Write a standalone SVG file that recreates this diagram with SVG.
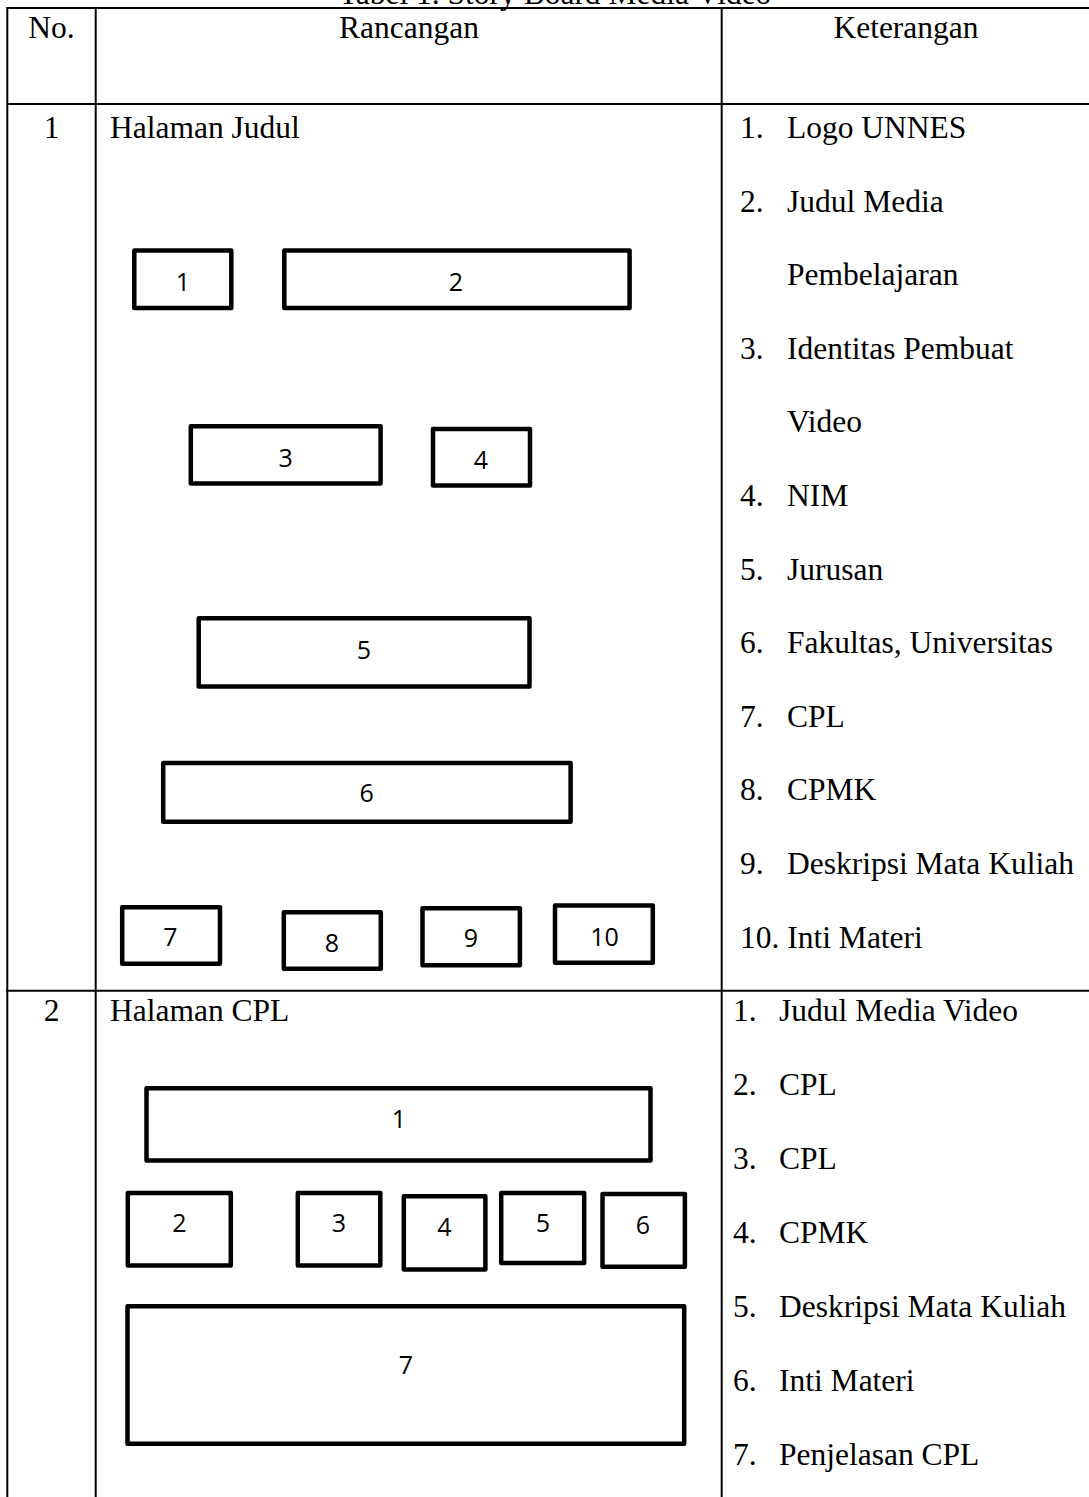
<svg xmlns="http://www.w3.org/2000/svg" width="1089" height="1497" viewBox="0 0 1089 1497">
<style>
.t{font-family:"Liberation Serif","Times New Roman",serif;font-size:31.5px;fill:#000}
.c{text-anchor:middle}
.bx{fill:#fff;stroke:#000;stroke-width:4.5;stroke-linejoin:round}
.lb{font-family:"Open Sans","Liberation Sans",sans-serif;font-size:25px;fill:#000;text-anchor:middle}
.ln{stroke:#000;stroke-width:2;fill:none}
</style>
<rect width="1089" height="1497" fill="#fff"/>
<text class="t c" x="555" y="4">Tabel 1. Story Board Media Video</text>
<g id="table-lines">
<line class="ln" x1="6" y1="8" x2="1089" y2="8"/>
<line class="ln" x1="6" y1="104" x2="1089" y2="104"/>
<line class="ln" x1="6" y1="990.7" x2="1089" y2="990.7"/>
<line class="ln" x1="7.3" y1="7" x2="7.3" y2="1497"/>
<line class="ln" x1="95.7" y1="7" x2="95.7" y2="1497"/>
<line class="ln" x1="721.7" y1="7" x2="721.7" y2="1497"/>
</g>
<g id="header">
<text class="t c" x="51.5" y="38">No.</text>
<text class="t c" x="409" y="38">Rancangan</text>
<text class="t c" x="906" y="38">Keterangan</text>
</g>
<g id="row1-text">
<text class="t c" x="51.5" y="138">1</text>
<text class="t" x="110" y="138">Halaman Judul</text>
<text class="t" x="740" y="138">1.</text><text class="t" x="787" y="138">Logo UNNES</text>
<text class="t" x="740" y="211.6">2.</text><text class="t" x="787" y="211.6">Judul Media</text>
<text class="t" x="787" y="285.2">Pembelajaran</text>
<text class="t" x="740" y="358.8">3.</text><text class="t" x="787" y="358.8">Identitas Pembuat</text>
<text class="t" x="787" y="432.4">Video</text>
<text class="t" x="740" y="506">4.</text><text class="t" x="787" y="506">NIM</text>
<text class="t" x="740" y="579.6">5.</text><text class="t" x="787" y="579.6">Jurusan</text>
<text class="t" x="740" y="653.2">6.</text><text class="t" x="787" y="653.2">Fakultas, Universitas</text>
<text class="t" x="740" y="726.8">7.</text><text class="t" x="787" y="726.8">CPL</text>
<text class="t" x="740" y="800.4">8.</text><text class="t" x="787" y="800.4">CPMK</text>
<text class="t" x="740" y="874">9.</text><text class="t" x="787" y="874">Deskripsi Mata Kuliah</text>
<text class="t" x="740" y="947.6">10. Inti Materi</text>
</g>
<g id="row1-box1"><rect class="bx" x="134.3" y="250.5" width="97" height="57.5"/><text class="lb" x="183" y="291">1</text></g>
<g id="row1-box2"><rect class="bx" x="284.3" y="250.5" width="345.3" height="57.5"/><text class="lb" x="456" y="291">2</text></g>
<g id="row1-box3"><rect class="bx" x="190.8" y="426.2" width="189.8" height="57.2"/><text class="lb" x="285.7" y="467">3</text></g>
<g id="row1-box4"><rect class="bx" x="433" y="429" width="97" height="56.5"/><text class="lb" x="481" y="469">4</text></g>
<g id="row1-box5"><rect class="bx" x="198.7" y="618.2" width="330.8" height="68.2"/><text class="lb" x="364" y="659">5</text></g>
<g id="row1-box6"><rect class="bx" x="163.2" y="763" width="407.4" height="58.8"/><text class="lb" x="366.6" y="802">6</text></g>
<g id="row1-box7"><rect class="bx" x="122.2" y="907.2" width="97.8" height="56.5"/><text class="lb" x="170.5" y="946">7</text></g>
<g id="row1-box8"><rect class="bx" x="283.8" y="912.2" width="97" height="56.5"/><text class="lb" x="332" y="952">8</text></g>
<g id="row1-box9"><rect class="bx" x="422.5" y="908.2" width="97.4" height="57"/><text class="lb" x="471" y="947">9</text></g>
<g id="row1-box10"><rect class="bx" x="555" y="905.5" width="97.8" height="57.2"/><text class="lb" x="604.5" y="946">10</text></g>
<g id="row2-text">
<text class="t c" x="51.5" y="1021">2</text>
<text class="t" x="110" y="1021">Halaman CPL</text>
<text class="t" x="733" y="1021">1.</text><text class="t" x="779" y="1021">Judul Media Video</text>
<text class="t" x="733" y="1095">2.</text><text class="t" x="779" y="1095">CPL</text>
<text class="t" x="733" y="1169">3.</text><text class="t" x="779" y="1169">CPL</text>
<text class="t" x="733" y="1243">4.</text><text class="t" x="779" y="1243">CPMK</text>
<text class="t" x="733" y="1317">5.</text><text class="t" x="779" y="1317">Deskripsi Mata Kuliah</text>
<text class="t" x="733" y="1391">6.</text><text class="t" x="779" y="1391">Inti Materi</text>
<text class="t" x="733" y="1465">7.</text><text class="t" x="779" y="1465">Penjelasan CPL</text>
</g>
<g id="row2-box1"><rect class="bx" x="146.5" y="1088.2" width="504" height="72.2"/><text class="lb" x="399" y="1128">1</text></g>
<g id="row2-box2"><rect class="bx" x="127.8" y="1193" width="103" height="72.5"/><text class="lb" x="179.3" y="1232">2</text></g>
<g id="row2-box3"><rect class="bx" x="297.8" y="1193" width="82.5" height="72.5"/><text class="lb" x="339" y="1232">3</text></g>
<g id="row2-box4"><rect class="bx" x="403.8" y="1196.2" width="81.6" height="73.2"/><text class="lb" x="444.5" y="1236">4</text></g>
<g id="row2-box5"><rect class="bx" x="501.2" y="1193" width="83" height="70"/><text class="lb" x="543" y="1232">5</text></g>
<g id="row2-box6"><rect class="bx" x="602.5" y="1194" width="82.4" height="72.8"/><text class="lb" x="643" y="1234">6</text></g>
<g id="row2-box7"><rect class="bx" x="127.5" y="1306.2" width="556.7" height="137.5"/><text class="lb" x="406" y="1374">7</text></g>
</svg>
